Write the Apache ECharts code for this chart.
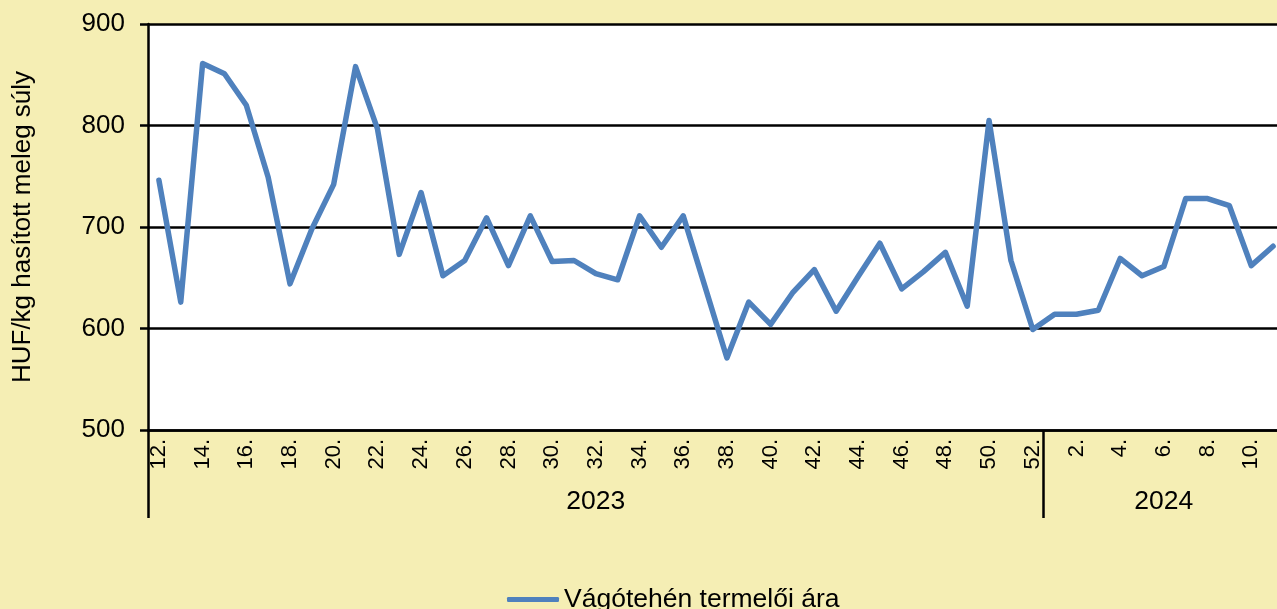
<!DOCTYPE html>
<html>
<head>
<meta charset="utf-8">
<script src="https://cdn.jsdelivr.net/npm/echarts@6/dist/echarts.min.js"></script>
<style>
html,body{margin:0;padding:0;background:#F5EEB4;}
#c{width:1277px;height:609px;}
</style>
</head>
<body>
<div id="c"></div>
<script>
const weeks2023 = [12,13,14,15,16,17,18,19,20,21,22,23,24,25,26,27,28,29,30,31,32,33,34,35,36,37,38,39,40,41,42,43,44,45,46,47,48,49,50,51,52];
const weeks2024 = [1,2,3,4,5,6,7,8,9,10,11];
const years = ['2023','2024'];
const prices2023 = [746,626,861,851,820,749,644,698,742,858,797,673,734,652,667,709,662,711,666,667,654,648,711,680,711,641,571,626,604,635,658,617,651,684,639,656,675,622,805,667,599];
const prices2024 = [614,614,618,669,652,661,728,728,721,662,681];
const yTicks = {min:500, max:900, interval:100};
const seriesName = 'Vágótehén termelői ára';
const yAxisName = 'HUF/kg hasított meleg súly';

const categories = weeks2023.map(w => w + '.').concat(weeks2024.map(w => w + '.'));
const values = prices2023.concat(prices2024);
const n2023 = weeks2023.length;
const yearCenter = [Math.floor((n2023 - 1) / 2), n2023 + Math.floor((weeks2024.length - 1) / 2)];

const font = 'Liberation Sans, Arial, sans-serif';
const chart = echarts.init(document.getElementById('c'), null, {renderer:'canvas'});
chart.setOption({
  backgroundColor: '#F5EEB4',
  animation: false,
  grid: {left:148, top:24, width:1136, height:406, outerBoundsMode:'none', containLabel:false,
    show:true, backgroundColor:'#FFFFFF', borderWidth:0},
  legend: {
    left: 502, top: 581,
    icon: 'roundRect', itemWidth: 52, itemHeight: 5, itemGap: 0,
    textStyle: {fontFamily: font, fontSize: 26.5, color: '#000', padding:[0,0,0,0]},
    data: [seriesName]
  },
  xAxis: [{
    type: 'category', data: categories, boundaryGap: true, position: 'bottom',
    axisLine: {show:true, onZero:false, lineStyle:{color:'#000', width:2.5}},
    axisTick: {show:false},
    axisLabel: {interval:1, rotate:90, margin:9, fontFamily:font, fontSize:22, color:'#000'},
    splitLine: {show:false}
  },{
    type: 'category', data: categories, boundaryGap: true, position: 'bottom', offset: 0,
    axisLine: {show:false},
    axisTick: {show:true, length:88, interval: (i) => i === 0 || i === n2023, lineStyle:{color:'#000', width:2.5}},
    axisLabel: {interval:0, margin:58, fontFamily:font, fontSize:26.5, color:'#000',
      formatter: (v, i) => i === yearCenter[0] ? years[0] : (i === yearCenter[1] ? years[1] : '')},
    splitLine: {show:false}
  }],
  yAxis: {
    type: 'value', min: yTicks.min, max: yTicks.max, interval: yTicks.interval,
    name: yAxisName, nameLocation: 'middle', nameGap: 112,
    nameTextStyle: {fontFamily: font, fontSize: 26, color:'#000'},
    axisLine: {show:true, lineStyle:{color:'#000', width:2.5}},
    axisTick: {show:true, inside:false, length:8, lineStyle:{color:'#000', width:2.5}},
    axisLabel: {margin:23, fontFamily:font, fontSize:26, color:'#000'},
    splitLine: {show:true, lineStyle:{color:'#000', width:2.5}}
  },
  series: [{
    name: seriesName, type: 'line', data: values, xAxisIndex: 0,
    showSymbol: false, symbol: 'none',
    lineStyle: {color:'#4F81BD', width:5.5, join:'round', cap:'round'},
    itemStyle: {color:'#4F81BD'}
  }]
});
</script>
</body>
</html>
